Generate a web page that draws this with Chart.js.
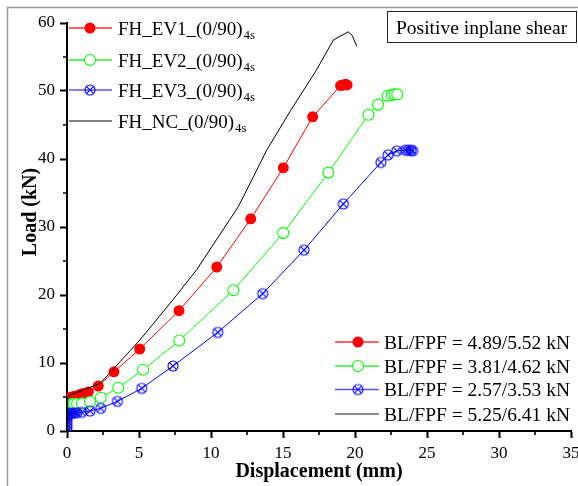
<!DOCTYPE html>
<html>
<head>
<meta charset="utf-8">
<script src="https://cdn.jsdelivr.net/npm/chart.js@4/dist/chart.umd.min.js"></script>
<style>
html,body{margin:0;padding:0;background:#fff;}
#c{display:block;}
</style>
</head>
<body>
<canvas id="c" width="578" height="486"></canvas>
<script>
// ---- data ----
const ev1X = [0, 0, 0, 0.05, 0.1, 0.2, 0.35, 0.5, 0.7, 0.9, 1.1, 1.48, 2.17, 3.26, 5.05, 7.78, 10.4, 12.76, 15.02, 17.06, 19.0, 19.2, 19.35, 19.45];
const ev1Y = [2.5, 3.5, 4.3, 4.6, 4.8, 4.9, 5.0, 5.1, 5.2, 5.35, 5.5, 5.74, 6.6, 8.7, 12.06, 17.7, 24.1, 31.2, 38.7, 46.2, 50.8, 50.9, 51.0, 50.9];

const ev2X = [0, 0.05, 0.1, 0.2, 0.35, 0.5, 0.7, 1.04, 1.6, 2.34, 3.56, 5.28, 7.8, 11.55, 15.02, 18.15, 20.93, 21.6, 22.27, 22.55, 22.73, 22.94];
const ev2Y = [3.2, 3.6, 3.8, 3.9, 4.0, 4.0, 4.0, 4.06, 4.3, 4.9, 6.37, 9.0, 13.3, 20.7, 29.1, 38.0, 46.5, 48.0, 49.3, 49.4, 49.5, 49.5];

const ev3X = [0, 0, 0, 0, 0, 0.05, 0.1, 0.2, 0.35, 0.5, 0.7, 1.02, 1.6, 2.34, 3.5, 5.19, 7.36, 10.47, 13.59, 16.46, 19.19, 21.8, 22.3, 22.9, 23.5, 23.7, 23.9, 24.0];
const ev3Y = [0, 0.5, 1.0, 1.5, 2.0, 2.3, 2.5, 2.6, 2.6, 2.65, 2.7, 2.75, 2.94, 3.33, 4.36, 6.27, 9.56, 14.5, 20.2, 26.6, 33.4, 39.5, 40.6, 41.2, 41.3, 41.3, 41.3, 41.2];

const ncX = [0.05, 0.05, 0.2, 1.1, 2.3, 3.3, 5.07, 7.36, 9.0, 11.9, 13.87, 15.49, 17.3, 18.5, 19.53, 19.8, 20.12];
const ncY = [0, 5.0, 5.3, 6.0, 7.0, 9.3, 13.4, 19.3, 23.7, 33.0, 41.3, 47.0, 53.0, 57.5, 58.7, 58.2, 56.6];

const seriesNames = ['FH_EV1_(0/90)', 'FH_EV2_(0/90)', 'FH_EV3_(0/90)', 'FH_NC_(0/90)'];
const seriesSub = '4s';
const blLabels = ['BL/FPF = 4.89/5.52 kN', 'BL/FPF = 3.81/4.62 kN', 'BL/FPF = 2.57/3.53 kN', 'BL/FPF = 5.25/6.41 kN'];
const boxTitle = 'Positive inplane shear';
const xTitle = 'Displacement (mm)';
const yTitle = 'Load (kN)';
const xTicks = [0, 5, 10, 15, 20, 25, 30, 35];
const yTicks = [0, 10, 20, 30, 40, 50, 60];

// ---- helpers ----
const SERIF = "'Liberation Serif','Times New Roman',Times,serif";
function pts(xs, ys){ return xs.map((x,i)=>({x:x, y:ys[i]})); }
function makeCircleX(color, r){
  const s = 2*r + 4;
  const c = document.createElement('canvas');
  c.width = s; c.height = s;
  const g = c.getContext('2d');
  g.strokeStyle = color; g.lineWidth = 1.1;
  g.beginPath(); g.arc(s/2, s/2, r, 0, Math.PI*2); g.stroke();
  const d = r*0.72;
  g.beginPath();
  g.moveTo(s/2-d, s/2-d); g.lineTo(s/2+d, s/2+d);
  g.moveTo(s/2+d, s/2-d); g.lineTo(s/2-d, s/2+d);
  g.stroke();
  return c;
}
const blueMark = makeCircleX('#0000ff', 5);

function drawMarker(ctx, kind, x, y){
  ctx.save();
  if (kind === 0){
    ctx.fillStyle = '#ff0000';
    ctx.beginPath(); ctx.arc(x, y, 5.5, 0, Math.PI*2); ctx.fill();
  } else if (kind === 1){
    ctx.fillStyle = '#fff'; ctx.strokeStyle = '#00ff00'; ctx.lineWidth = 1.1;
    ctx.beginPath(); ctx.arc(x, y, 5.5, 0, Math.PI*2); ctx.fill(); ctx.stroke();
  } else if (kind === 2){
    ctx.drawImage(blueMark, x - blueMark.width/2, y - blueMark.height/2);
  }
  ctx.restore();
}

const decor = {
  id: 'decor',
  beforeDraw(chart){
    const ctx = chart.ctx;
    ctx.save();
    ctx.fillStyle = '#fff';
    ctx.fillRect(0, 0, chart.width, chart.height);
    ctx.strokeStyle = '#9a9a9a'; ctx.lineWidth = 1.5;
    ctx.beginPath();
    ctx.moveTo(7.5, 486); ctx.lineTo(7.5, 7.5); ctx.lineTo(578, 7.5);
    ctx.stroke();
    ctx.restore();
  },
  afterDraw(chart){
    const ctx = chart.ctx;
    const xs = chart.scales.x, ys = chart.scales.y;
    const area = chart.chartArea;
    ctx.save();
    // minor ticks
    ctx.strokeStyle = '#000'; ctx.lineWidth = 1.6;
    ctx.beginPath();
    for (let v = 2.5; v < 35; v += 5){
      const p = Math.round(xs.getPixelForValue(v));
      ctx.moveTo(p, area.bottom); ctx.lineTo(p, area.bottom + 4);
    }
    for (let v = 5; v < 60; v += 10){
      const p = Math.round(ys.getPixelForValue(v));
      ctx.moveTo(area.left, p); ctx.lineTo(area.left - 4, p);
    }
    ctx.stroke();

    // axis titles
    ctx.fillStyle = '#000';
    ctx.font = 'bold 20px ' + SERIF;
    ctx.textAlign = 'center'; ctx.textBaseline = 'alphabetic';
    ctx.fillText(xTitle, 319, 477);
    ctx.save();
    ctx.translate(36, 212); ctx.rotate(-Math.PI/2);
    ctx.fillText(yTitle, 0, 0);
    ctx.restore();

    // title box
    ctx.strokeStyle = '#222'; ctx.lineWidth = 1;
    ctx.strokeRect(387.5, 11.5, 189, 31);
    ctx.font = '19.5px ' + SERIF;
    ctx.textAlign = 'left';
    ctx.fillText(boxTitle, 396, 33.5);

    // top-left legend
    const lcol = ['#ff3030', '#33ee33', '#5555ff', '#000'];
    const ly = [28, 60, 90, 121];
    for (let i = 0; i < 4; i++){
      ctx.strokeStyle = lcol[i]; ctx.lineWidth = i === 3 ? 1 : 1.3;
      ctx.beginPath(); ctx.moveTo(69, ly[i]); ctx.lineTo(112, ly[i]); ctx.stroke();
      drawMarker(ctx, i, 90, ly[i]);
      ctx.fillStyle = '#000';
      ctx.font = '19px ' + SERIF;
      ctx.textAlign = 'left';
      ctx.fillText(seriesNames[i], 118, ly[i] + 7);
      const w = ctx.measureText(seriesNames[i]).width;
      ctx.font = '13px ' + SERIF;
      ctx.fillText(seriesSub, 118 + w + 1, ly[i] + 11);
    }

    // bottom-right legend
    const bcol = ['#ff3030', '#33ee33', '#5555ff', '#666'];
    const by = [342, 366, 389.5, 414];
    for (let i = 0; i < 4; i++){
      ctx.strokeStyle = bcol[i]; ctx.lineWidth = 1.4;
      ctx.beginPath(); ctx.moveTo(335, by[i]); ctx.lineTo(379, by[i]); ctx.stroke();
      drawMarker(ctx, i, 358, by[i]);
      ctx.fillStyle = '#000';
      ctx.font = '19.5px ' + SERIF;
      ctx.textAlign = 'left';
      ctx.fillText(blLabels[i], 384, by[i] + 6.5);
    }
    ctx.restore();
  }
};

const tickFont = {family: SERIF, size: 17};

new Chart(document.getElementById('c'), {
  type: 'scatter',
  data: {
    datasets: [
      {label: 'NC', data: pts(ncX, ncY), showLine: true, borderColor: '#000', borderWidth: 1, pointRadius: 0, pointHoverRadius: 0, tension: 0},
      {label: 'EV3', data: pts(ev3X, ev3Y), showLine: true, borderColor: '#0000ff', borderWidth: 1, pointStyle: blueMark, pointRadius: 5, tension: 0},
      {label: 'EV2', data: pts(ev2X, ev2Y), showLine: true, borderColor: '#00ff00', borderWidth: 1, backgroundColor: '#fff', pointBorderColor: '#00ff00', pointBackgroundColor: '#fff', pointBorderWidth: 1.1, pointRadius: 5.5, tension: 0},
      {label: 'EV1', data: pts(ev1X, ev1Y), showLine: true, borderColor: '#ff0000', borderWidth: 1, pointBorderColor: '#ff0000', pointBackgroundColor: '#ff0000', pointBorderWidth: 0, pointRadius: 5.5, tension: 0}
    ]
  },
  options: {
    responsive: false,
    animation: false,
    events: [],
    layout: {padding: {left: 0, right: 7, top: 23, bottom: 0}},
    plugins: {legend: {display: false}, tooltip: {enabled: false}, title: {display: false}},
    scales: {
      x: {
        type: 'linear', min: 0, max: 35,
        afterBuildTicks(s){ s.ticks = xTicks.map(v => ({value: v})); },
        afterFit(s){ s.height = 55; s.paddingLeft = 0; s.paddingRight = 0; },
        ticks: {font: tickFont, color: '#000', padding: 5, maxRotation: 0, autoSkip: false},
        border: {display: true, color: '#000', width: 2},
        grid: {drawOnChartArea: false, drawTicks: true, tickLength: 7, tickWidth: 2, tickColor: '#000'}
      },
      y: {
        type: 'linear', min: 0, max: 60,
        afterBuildTicks(s){ s.ticks = yTicks.map(v => ({value: v})); },
        afterFit(s){ s.width = 67; s.paddingTop = 0; s.paddingBottom = 0; },
        ticks: {font: tickFont, color: '#000', padding: 5, autoSkip: false},
        border: {display: true, color: '#000', width: 2},
        grid: {drawOnChartArea: false, drawTicks: true, tickLength: 7, tickWidth: 2, tickColor: '#000'}
      }
    }
  },
  plugins: [decor]
});
</script>
</body>
</html>
